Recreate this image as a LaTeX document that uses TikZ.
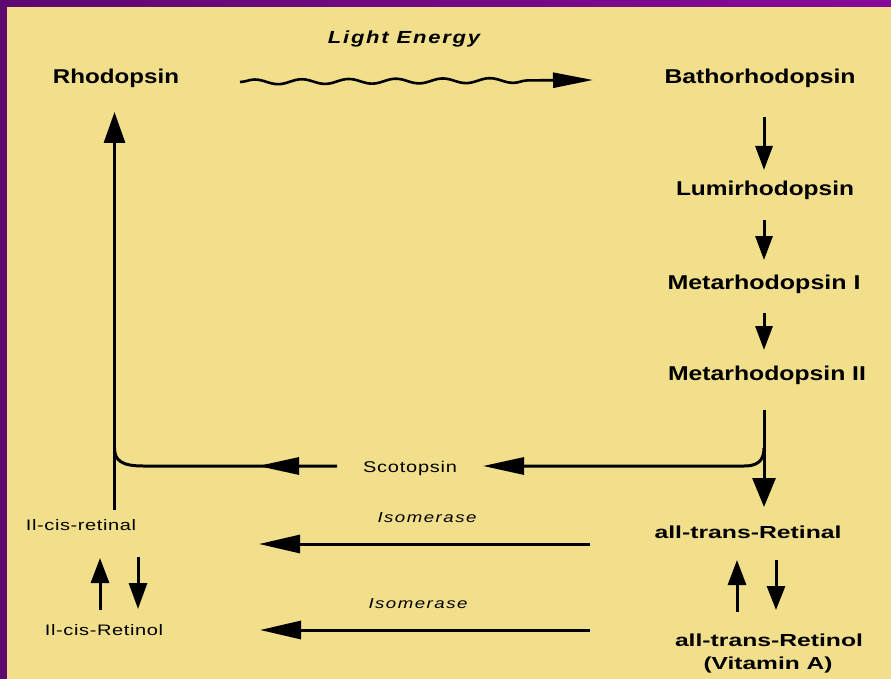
\documentclass[tikz,border=0pt]{standalone}
\usepackage{fontspec}
\usepackage{graphicx}
\setmainfont{Liberation Sans}
\usetikzlibrary{arrows.meta,decorations.pathmorphing}
\definecolor{bgyel}{RGB}{242,223,140}
\definecolor{purpL}{RGB}{95,8,112}
\definecolor{purpR}{RGB}{135,10,152}
\newcommand\hs[2]{\resizebox{#1pt}{\height}{#2}}
\tikzset{
  lab/.style={inner sep=0pt, anchor=base},
  bigb/.style={lab, font=\fontsize{20}{21}\selectfont\bfseries},
  midb/.style={lab, font=\fontsize{17.4}{19}\selectfont\bfseries},
  lighttxt/.style={lab, font=\fontsize{17.5}{19}\selectfont\bfseries\itshape\addfontfeatures{LetterSpace=8}},
  regtxt/.style={lab, font=\fontsize{15.6}{17}\selectfont\addfontfeatures{LetterSpace=4}},
  cistxt/.style={lab, font=\fontsize{15.2}{17}\selectfont\addfontfeatures{LetterSpace=3}},
  isotxt/.style={lab, font=\fontsize{14.5}{16}\selectfont\itshape\addfontfeatures{LetterSpace=8}},
  shaft/.style={line width=3pt, line cap=butt},
  sarr/.style={shaft, -{Triangle[length=24pt,width=17pt]}},
  larr/.style={shaft, -{Triangle[length=41pt,width=17pt]}},
}
\begin{document}
\begin{tikzpicture}[x=1pt,y=-1pt]
\useasboundingbox (0,0) rectangle (891,679);
\fill[bgyel] (0,0) rectangle (891,679);
\fill[purpL] (0,0) rectangle (7,679);
\shade[left color=purpL, right color=purpR] (0,0) rectangle (891,6.5);

% labels
\node[lighttxt] (light) at (404,44) {\hs{152}{Light Energy}};
\node[bigb] (rho) at (116,84) {\hs{126}{Rhodopsin}};
\node[bigb] (batho) at (760,84) {\hs{191}{Bathorhodopsin}};
\node[bigb] (lumi) at (765,196) {\hs{178}{Lumirhodopsin}};
\node[bigb] (meta1) at (764,289) {\hs{193}{Metarhodopsin I}};
\node[bigb] (meta2) at (767,380) {\hs{198}{Metarhodopsin II}};
\node[regtxt] (scot) at (410,472) {\hs{94}{Scotopsin}};
\node[isotxt] (iso1) at (427,522) {\hs{99}{Isomerase}};
\node[isotxt] (iso2) at (418,608) {\hs{99}{Isomerase}};
\node[midb] (atral) at (748,538) {\hs{187}{all-trans-Retinal}};
\node[midb] (atrol) at (769,646) {\hs{188}{all-trans-Retinol}};
\node[midb] (vita) at (768,669) {\hs{129}{(Vitamin A)}};
\node[cistxt] (cisal) at (81,530) {\hs{110}{Il-cis-retinal}};
\node[cistxt] (cisol) at (104,635) {\hs{118}{Il-cis-Retinol}};

% coordinates
\coordinate (w1) at (240,82);
\coordinate (w2) at (593,80);
\coordinate (b1) at (764,117); \coordinate (b2) at (764,170);
\coordinate (l1) at (764,220); \coordinate (l2) at (764,260);
\coordinate (m1) at (764,313); \coordinate (m2) at (764,350);
\coordinate (n1) at (764,410); \coordinate (n2) at (764,507);
\coordinate (rj) at (764,448); \coordinate (rh) at (744,466); \coordinate (rt) at (483,466);
\coordinate (ls) at (337,466); \coordinate (lh) at (143,466); \coordinate (lj) at (114.5,448);
\coordinate (la1) at (299,466); \coordinate (la2) at (258,466);
\coordinate (v1) at (114.5,510); \coordinate (v2) at (114.5,112);
\coordinate (i1a) at (590,544); \coordinate (i1b) at (259,544);
\coordinate (i2a) at (590,630); \coordinate (i2b) at (260,630);
\coordinate (cu1) at (100,610); \coordinate (cu2) at (100,558);
\coordinate (cd1) at (138,557); \coordinate (cd2) at (138,609);
\coordinate (tu1) at (737,612); \coordinate (tu2) at (737,560);
\coordinate (td1) at (776,560); \coordinate (td2) at (776,610);

% wavy light arrow
\draw[line width=2.6pt, -{Triangle[length=40pt,width=15pt]},
  decorate, decoration={snake, segment length=47pt, amplitude=2.4pt, post=lineto, post length=42pt}]
  (w1) -- (w2);

% right column arrows
\draw[sarr] (b1) -- (b2);
\draw[sarr] (l1) -- (l2);
\draw[sarr] (m1) -- (m2);
\draw[shaft, -{Triangle[length=29pt,width=23pt]}] (n1) -- (n2);

% scotopsin branch
\draw[larr] (rj) .. controls (764,462) and (756,466) .. (rh) -- (rt);
\draw[shaft] (ls) -- (lh) .. controls (121,466) and (114.5,460) .. (lj);
\draw[larr] (la1) -- (la2);
\draw[shaft, -{Triangle[length=31pt,width=21pt]}] (v1) -- (v2);

% isomerase arrows
\draw[larr, -{Triangle[length=41pt,width=18pt]}] (i1a) -- (i1b);
\draw[larr, -{Triangle[length=41pt,width=18pt]}] (i2a) -- (i2b);

% small up/down arrows
\draw[sarr, -{Triangle[length=25pt,width=18pt]}] (cu1) -- (cu2);
\draw[sarr, -{Triangle[length=26pt,width=18pt]}] (cd1) -- (cd2);
\draw[sarr, -{Triangle[length=25pt,width=18pt]}] (tu1) -- (tu2);
\draw[sarr, -{Triangle[length=24pt,width=18pt]}] (td1) -- (td2);
\end{tikzpicture}
\end{document}
